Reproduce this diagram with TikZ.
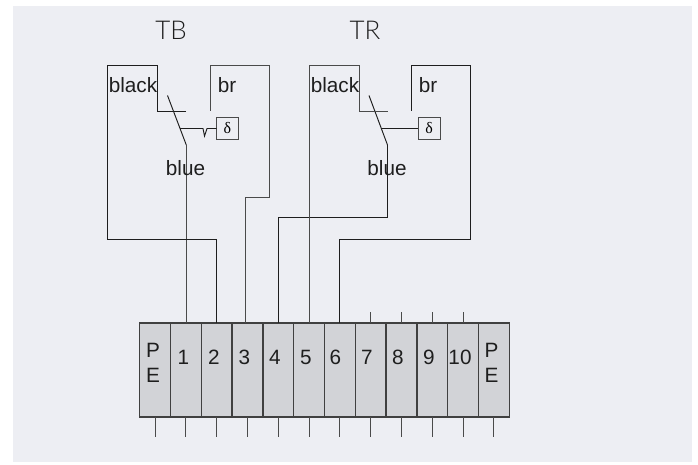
\documentclass[tikz,border=0pt]{standalone}
\usepackage{fontspec}
\setmainfont{Liberation Sans}
\newfontfamily\thinfont[UprightFont=* Light]{Lato}
\newfontfamily\deltafont{Liberation Serif}
\definecolor{panel}{HTML}{EDEEF3}
\definecolor{cell}{HTML}{D2D3D7}
\definecolor{ink}{HTML}{1E1E1E}
\definecolor{wiregray}{HTML}{4A4A4A}
\tikzset{
  wire/.style={draw=wiregray,line width=1bp},
  fine/.style={draw=ink,line width=0.95bp},
  cellbox/.style={draw=ink!85,line width=1.4bp,fill=cell,minimum width=30.8bp,minimum height=94bp,inner sep=0pt,outer sep=0pt},
  relay/.style={draw=wiregray,line width=1bp,minimum width=22bp,minimum height=22bp,inner sep=0pt,outer sep=0pt,font=\deltafont\fontsize{16}{16}\selectfont},
  lab/.style={text=ink,inner sep=0pt,font=\fontsize{20.8}{23}\selectfont},
  title/.style={text=ink,inner sep=0pt,font=\thinfont\fontsize{26}{28}\selectfont},
}
\begin{document}
\begin{tikzpicture}[x=1bp,y=-1bp]
\useasboundingbox (0,0) rectangle (698,465);
\fill[panel] (13,6) rectangle (692,461.5);
% terminals
\node[cellbox] (t0) at (155,370) {};
\foreach \i/\x in {1/185.8,2/216.6,3/247.4,4/278.2,5/309,6/339.8,7/370.6,8/401.4,9/432.2,10/463,11/493.8}{
  \node[cellbox] (t\i) at (\x,370) {};
}
\foreach \i in {0,...,11}{
  \draw[wire] (t\i.south) -- ++(0,20);
}
\foreach \i in {7,8,9,10}{
  \draw[wire] (t\i.north) -- ++(0,-11);
}
\foreach \i/\x in {1/183.5,2/214,3/244.5,4/275,5/306,6/335.5,7/367,8/398,9/429,10/460}{
  \node[lab] (n\i) at (\x,357) {\i};
}
\node[lab] (p1) at (153,350) {P};
\node[lab] (e1) at (153,375) {E};
\node[lab] (p2) at (491.5,350) {P};
\node[lab] (e2) at (491.5,375) {E};
% TB
\node[title] (tb) at (171,30) {TB};
\node[relay] (d1) at (227.5,128.5) {δ};
\coordinate (a1) at (167.5,95.5);
\coordinate (b1) at (186.3,145);
\coordinate (k1) at (180,128.5);
\draw[fine] (a1) -- (b1);
\draw[wire] (b1) -- (b1 |- t1.north);
\draw[fine] (186,111.3) -- (157.5,111.3) -- (157.5,65.5) -- (107.5,65.5) -- (107.5,239) -- (t2.north |- 0,239) -- (t2.north);
\draw[wire] (210.3,111) -- (210.3,65.5) -- (269.3,65.5) -- (269.3,198) -- (245.3,198) -- (245.3,323);
\draw[fine] (k1) -- (201,128.5) -- (203,128.5) -- (204.5,136) -- (207,128.5) -- (d1.west);
\node[lab] (l1) at (133,85) {black};
\node[lab] (l2) at (227,85) {br};
\node[lab] (l3) at (185.5,168) {blue};
% TR
\node[title] (tr) at (365,30) {TR};
\node[relay] (d2) at (429,128.5) {δ};
\coordinate (a2) at (369,95.5);
\coordinate (b2) at (387.5,145);
\coordinate (k2) at (381.5,128.5);
\draw[fine] (a2) -- (b2);
\draw[fine] (b2) -- (387.5,217) -- (t4.north |- 0,217) -- (t4.north);
\draw[wire] (387.5,111.3) -- (359.3,111.3) -- (359.3,65.5) -- (309.3,65.5) -- (309.3,323);
\draw[fine] (411.5,111) -- (411.5,65.5) -- (470.5,65.5) -- (470.5,239) -- (t6.north |- 0,239) -- (t6.north);
\draw[fine] (k2) -- (d2.west);
\node[lab] (l4) at (335,85) {black};
\node[lab] (l5) at (428,85) {br};
\node[lab] (l6) at (387,168) {blue};
\end{tikzpicture}
\end{document}
